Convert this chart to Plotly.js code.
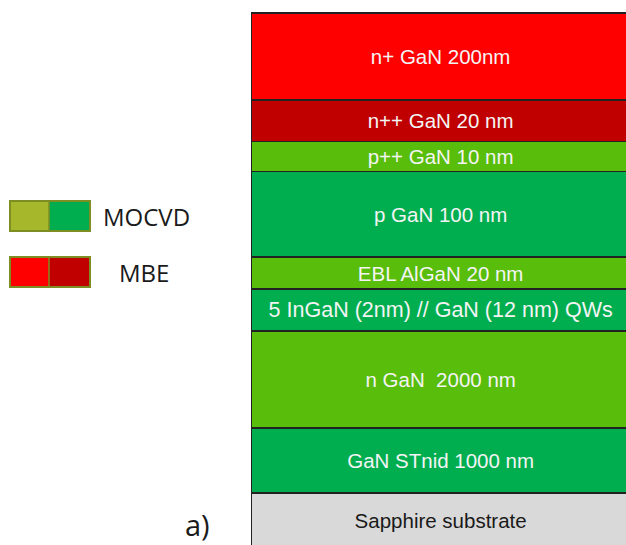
<!DOCTYPE html>
<html>
<head>
<meta charset="utf-8">
<script src="https://cdn.plot.ly/plotly-3.0.1.min.js"></script>
<style>html,body{margin:0;padding:0;background:#fff;}#chart{width:626px;height:545px;}</style>
</head>
<body>
<div id="chart"></div>
<script>
// Layers, bottom to top (display heights)
const layerNames = ['Sapphire substrate', 'GaN STnid 1000 nm', 'n GaN\u00a0 2000 nm',
  '5 InGaN (2nm) // GaN (12 nm) QWs', 'EBL AlGaN 20 nm', 'p GaN 100 nm',
  'p++ GaN 10 nm', 'n++ GaN 20 nm', 'n+ GaN 200nm'];
const layerHeights = [55, 65, 97, 42, 32, 85.5, 30, 41.5, 87];
const layerColors = ['#D9D9D9', '#00AE50', '#58BD0B', '#00AE50', '#58BD0B', '#00AE50',
  '#58BD0B', '#C00000', '#FF0000'];
const textColors = ['#1a1a1a', '#F4F4F4', '#F4F4F4', '#F4F4F4', '#F4F4F4', '#F4F4F4',
  '#F4F4F4', '#F4F4F4', '#F4F4F4'];
const legendLabels = ['MOCVD', 'MBE'];
const legendColors = [['#A7B72B', '#00AE50'], ['#FF0000', '#C00000']];
const panelLabel = 'a)';

const W = 626, H = 545, L = 250, T = 12;
const pw = W - L, ph = H - T;
const px = v => (v - L) / pw;
const py = v => (H - v) / ph;

const traces = layerNames.map((n, i) => ({
  type: 'bar', x: [0], y: [layerHeights[i]], width: [1],
  marker: {color: layerColors[i], line: {color: '#222', width: 1.5}},
  text: [n], textposition: 'inside', insidetextanchor: 'middle', textangle: 0,
  textfont: {family: "'Liberation Sans', Arial, sans-serif", size: (i === 3 ? 21.5 : 20.5), color: textColors[i]},
  hoverinfo: 'skip', showlegend: false
}));

const shapes = [];
const annotations = [];
const boxTops = [201, 257];
legendLabels.forEach((lab, i) => {
  const y0 = boxTops[i], y1 = y0 + 30;
  shapes.push({type: 'rect', xref: 'paper', yref: 'paper', x0: px(10), x1: px(49), y0: py(y1), y1: py(y0),
    fillcolor: legendColors[i][0], line: {width: 0}});
  shapes.push({type: 'rect', xref: 'paper', yref: 'paper', x0: px(49), x1: px(90), y0: py(y1), y1: py(y0),
    fillcolor: legendColors[i][1], line: {width: 0}});
  shapes.push({type: 'rect', xref: 'paper', yref: 'paper', x0: px(10), x1: px(90), y0: py(y1), y1: py(y0),
    fillcolor: 'rgba(0,0,0,0)', line: {color: '#7E8E22', width: 2}});
  shapes.push({type: 'line', xref: 'paper', yref: 'paper', x0: px(49), x1: px(49), y0: py(y1), y1: py(y0),
    line: {color: '#7E8E22', width: 1.5}});
  annotations.push({xref: 'paper', yref: 'paper', x: px(i === 0 ? 101 : 117), y: py(y0 + 15),
    xanchor: 'left', yanchor: 'middle', text: lab, showarrow: false,
    font: {family: "'Open Sans', sans-serif", size: 24, color: '#1a1a1a'}});
});
annotations.push({xref: 'paper', yref: 'paper', x: px(183), y: py(524), xanchor: 'left', yanchor: 'middle',
  text: panelLabel, showarrow: false, font: {family: "'Open Sans', sans-serif", size: 29, color: '#1a1a1a'}});

const layout = {
  width: W, height: H,
  margin: {l: L, r: 0, t: T, b: 0, pad: 0},
  paper_bgcolor: '#fff', plot_bgcolor: '#fff',
  barmode: 'stack', bargap: 0,
  xaxis: {range: [-0.504, 0.49], visible: false, fixedrange: true},
  yaxis: {range: [3, 536], visible: false, fixedrange: true},
  shapes: shapes, annotations: annotations, showlegend: false
};

Plotly.newPlot('chart', traces, layout, {staticPlot: true, displayModeBar: false});
</script>
</body>
</html>
